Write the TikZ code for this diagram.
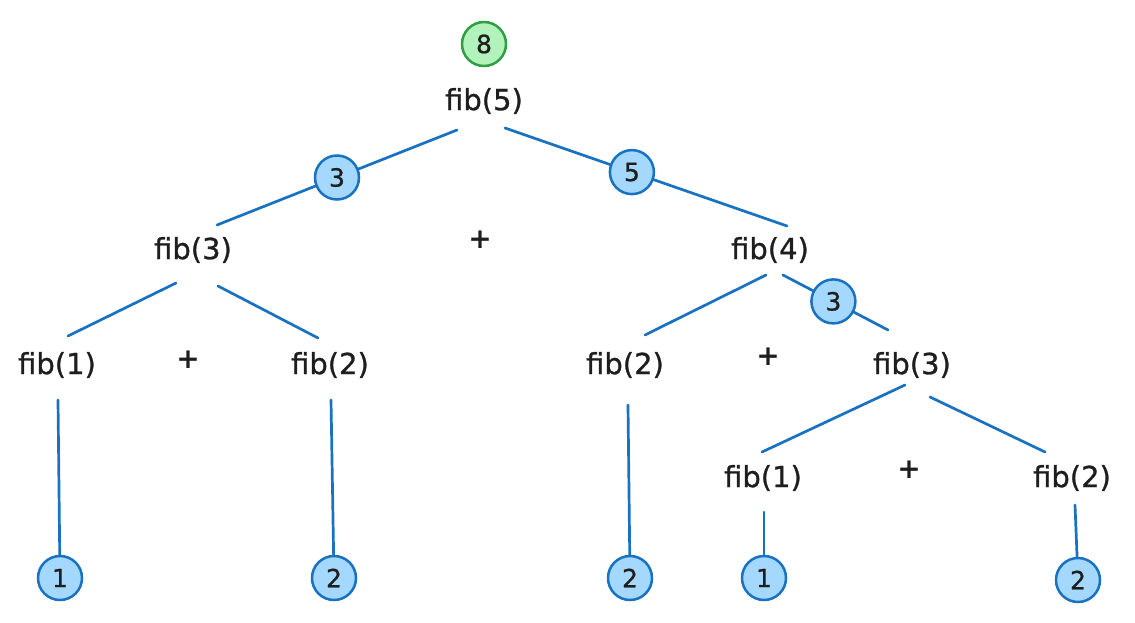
\documentclass[tikz,border=0pt]{standalone}
\usepackage{fontspec}
\setmainfont{DejaVu Sans}
\newfontfamily\handfont[FakeBold=0.9]{DejaVu Sans}
\begin{document}
\begin{tikzpicture}[x=1pt,y=-1pt]
\definecolor{edgeblue}{HTML}{1971C2}
\definecolor{ballblue}{HTML}{A5D8FF}
\definecolor{gedge}{HTML}{2F9E44}
\definecolor{gfill}{HTML}{B2F2BB}
\definecolor{ink}{HTML}{1E1E1E}
\tikzset{
  lbl/.style={font=\handfont\fontsize{29}{32}\selectfont, text=ink, inner sep=0pt},
  plus/.style={font=\fontsize{28}{30}\selectfont\bfseries, text=ink, inner sep=0pt},
  ball/.style={circle, minimum size=44pt, inner sep=0pt, draw=edgeblue,
    line width=2.5pt, fill=ballblue, font=\handfont\fontsize{25}{28}\selectfont, text=ink},
  gball/.style={ball, draw=gedge, fill=gfill},
  edge/.style={draw=edgeblue, line width=2.7pt, line cap=round}}
\useasboundingbox (0,0) rectangle (1135,622);

% call labels
\node[lbl] (f5)  at (484,101) {fib(5)};
\node[lbl] (f3a) at (193,250) {fib(3)};
\node[lbl] (f4)  at (770,250) {fib(4)};
\node[lbl] (f1a) at (57,365)  {fib(1)};
\node[lbl] (f2a) at (330,365) {fib(2)};
\node[lbl] (f2b) at (625,365) {fib(2)};
\node[lbl] (f3b) at (912,365) {fib(3)};
\node[lbl] (f1b) at (763,478) {fib(1)};
\node[lbl] (f2c) at (1072,478) {fib(2)};

% plus signs
\node[plus] (p1) at (480,240) {+};
\node[plus] (p2) at (188,360) {+};
\node[plus] (p3) at (768,357) {+};
\node[plus] (p4) at (909,470) {+};

% result of the root call
\node[gball] (r8) at (484,44) {8};

% edge end points
\coordinate (f5-l)  at (457,130);
\coordinate (f5-r)  at (505,128);
\coordinate (f3a-t) at (217,225);
\coordinate (f4-t)  at (787,226);
\coordinate (f3a-l) at (176,283);
\coordinate (f3a-r) at (218,286);
\coordinate (f1a-t) at (68,336);
\coordinate (f2a-t) at (318,338);
\coordinate (f4-l)  at (766,275);
\coordinate (f4-r)  at (783,275);
\coordinate (f2b-t) at (645,335);
\coordinate (f3b-t) at (888,330);
\coordinate (f3b-l) at (905,385);
\coordinate (f3b-r) at (930,397);
\coordinate (f1b-t) at (762,452);
\coordinate (f2c-t) at (1045,452);
\coordinate (f1a-b) at (58,400);
\coordinate (f2a-b) at (331,400);
\coordinate (f2b-b) at (628,405);
\coordinate (f1b-b) at (764,512);
\coordinate (f2c-b) at (1075,505);

% leaf results
\node[ball] (l1) at (60,578)   {1};
\node[ball] (l2) at (334,578)  {2};
\node[ball] (l3) at (630,578)  {2};
\node[ball] (l4) at (764,578)  {1};
\node[ball] (l5) at (1078,580) {2};

% tree edges, with intermediate results
\draw[edge] (f5-l) -- node[ball, pos=0.5] (v3) {3} (f3a-t);
\draw[edge] (f5-r) -- node[ball, pos=0.45] (v5) {5} (f4-t);
\draw[edge] (f3a-l) -- (f1a-t);
\draw[edge] (f3a-r) -- (f2a-t);
\draw[edge] (f4-l) -- (f2b-t);
\draw[edge] (f4-r) -- node[ball, pos=0.48] (v3b) {3} (f3b-t);
\draw[edge] (f3b-l) -- (f1b-t);
\draw[edge] (f3b-r) -- (f2c-t);

% leaf edges
\draw[edge] (f1a-b) -- (l1);
\draw[edge] (f2a-b) -- (l2);
\draw[edge] (f2b-b) -- (l3);
\draw[edge] (f1b-b) -- (l4);
\draw[edge] (f2c-b) -- (l5);
\end{tikzpicture}
\end{document}
